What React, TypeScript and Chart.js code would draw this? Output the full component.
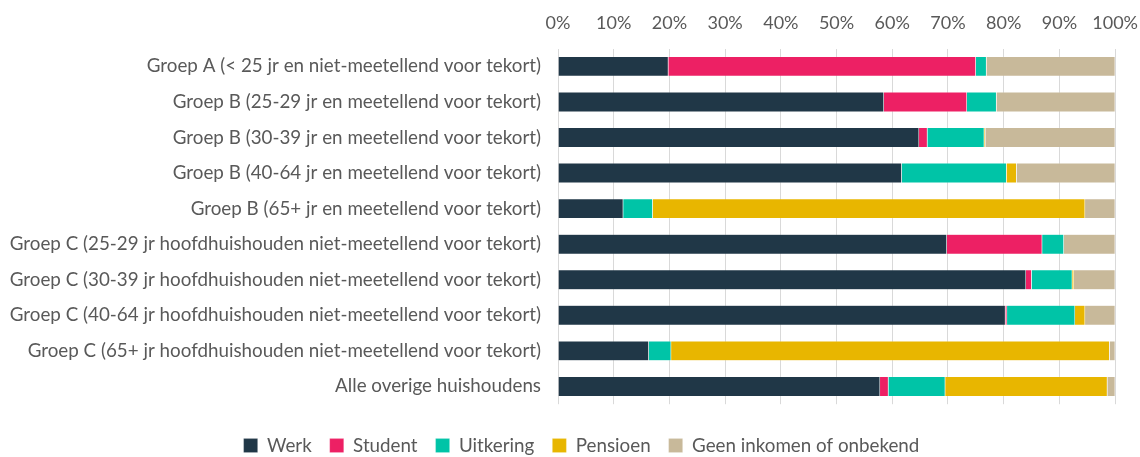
import React, { useEffect, useRef } from "react";
import { Chart, registerables } from "chart.js";

Chart.register(...registerables);

const categories = [
  "Groep A (< 25 jr en niet-meetellend voor tekort)",
  "Groep B (25-29 jr en meetellend voor tekort)",
  "Groep B (30-39 jr en meetellend voor tekort)",
  "Groep B (40-64 jr en meetellend voor tekort)",
  "Groep B (65+ jr en meetellend voor tekort)",
  "Groep C (25-29 jr hoofdhuishouden niet-meetellend voor tekort)",
  "Groep C (30-39 jr hoofdhuishouden niet-meetellend voor tekort)",
  "Groep C (40-64 jr hoofdhuishouden niet-meetellend voor tekort)",
  "Groep C (65+ jr hoofdhuishouden niet-meetellend voor tekort)",
  "Alle overige huishoudens",
];

const werk = [19.8, 58.5, 64.8, 61.7, 11.7, 69.8, 84.0, 80.3, 16.3, 57.8];
const student = [55.2, 14.9, 1.5, 0, 0, 17.1, 1.0, 0.3, 0, 1.5];
const uitkering = [1.9, 5.3, 10.2, 18.8, 5.3, 3.9, 7.3, 12.2, 4.0, 10.2];
const pensioen = [0, 0, 0.2, 1.8, 77.6, 0, 0.3, 1.8, 78.7, 29.1];
const geen = [23.1, 21.3, 23.3, 17.7, 5.4, 9.2, 7.4, 5.4, 1.0, 1.4];

const seriesNames = ["Werk", "Student", "Uitkering", "Pensioen", "Geen inkomen of onbekend"];
const seriesColors = ["#203747", "#ED2064", "#00C4A7", "#E8B600", "#C8B99A"];

const FONT = "Lato, 'Open Sans', sans-serif";

export default function App() {
  const ref = useRef<HTMLCanvasElement | null>(null);
  useEffect(() => {
    if (!ref.current) return;
    const data = [werk, student, uitkering, pensioen, geen];
    const chart = new Chart(ref.current, {
      type: "bar",
      data: {
        labels: categories,
        datasets: seriesNames.map((n, i) => ({
          label: n,
          data: data[i],
          backgroundColor: seriesColors[i],
          borderColor: "rgba(255,255,255,0.35)",
          borderWidth: 0.5,
          barPercentage: 0.56,
          categoryPercentage: 1,
        })),
      },
      options: {
        indexAxis: "y",
        animation: false,
        responsive: true,
        maintainAspectRatio: false,
        layout: { padding: { left: 10, right: 0, top: 1, bottom: 0 } },
        scales: {
          x: {
            position: "top",
            stacked: true,
            min: 0,
            max: 100,
            ticks: {
              stepSize: 10,
              color: "#595959",
              font: { family: FONT, size: 18 },
              padding: 15,
              callback: (v: any) => v + "%",
            },
            grid: { color: "#d9d9d9", drawTicks: false },
            border: { display: false },
          },
          y: {
            stacked: true,
            afterFit: (scale: any) => {
              scale.width = 548;
            },
            ticks: {
              color: "#595959",
              font: { family: FONT, size: 18.8 },
              padding: 9,
            },
            grid: { display: false },
            border: { display: false },
          },
        },
        plugins: {
          legend: {
            position: "bottom",
            title: { display: true, text: " ", font: { size: 10 }, padding: 1 },
            labels: {
              color: "#595959",
              font: { family: FONT, size: 18.8 },
              boxWidth: 14,
              boxHeight: 14,
              padding: 18,
              useBorderRadius: false,
            },
          },
          tooltip: { enabled: false },
        },
      },
    });
    return () => chart.destroy();
  }, []);
  return (
    <div style={{ position: "fixed", left: 0, top: 0, width: 1140, height: 457, overflow: "hidden", background: "#fff" }}>
      <div style={{ position: "absolute", left: 0, top: -4, width: 1153, height: 469 }}>
        <canvas ref={ref} />
      </div>
    </div>
  );
}
